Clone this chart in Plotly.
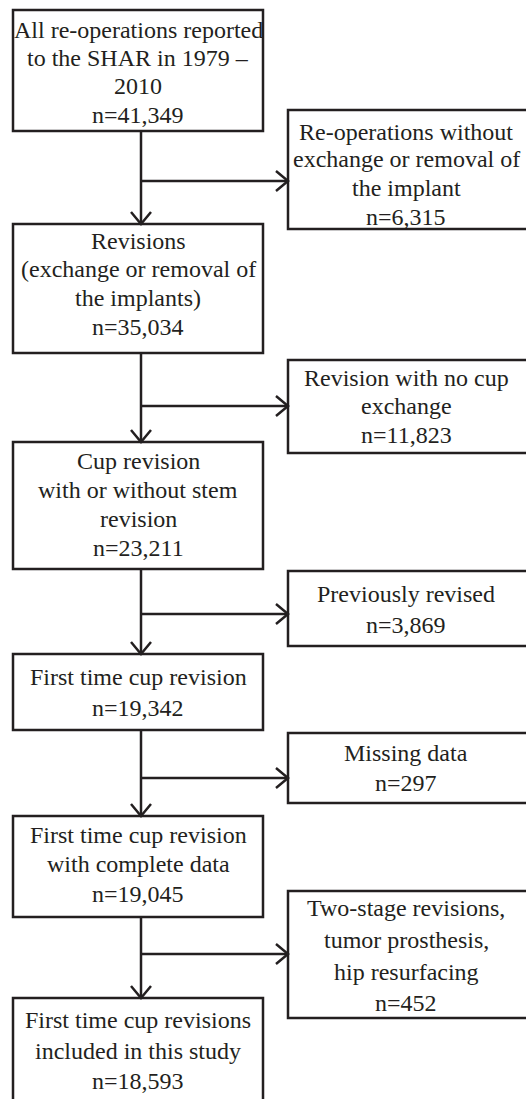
import plotly.graph_objects as go

# ---- data (text content) ----
main_steps = [
    ["All re-operations reported", "to the SHAR in 1979 –", "2010", "n=41,349"],
    ["Revisions", "(exchange or removal of", "the implants)", "n=35,034"],
    ["Cup revision", "with or without stem", "revision", "n=23,211"],
    ["First time cup revision", "n=19,342"],
    ["First time cup revision", "with complete data", "n=19,045"],
    ["First time cup revisions", "included in this study", "n=18,593"],
]
exclusions = [
    ["Re-operations without", "exchange or removal of", "the implant", "n=6,315"],
    ["Revision with no cup", "exchange", "n=11,823"],
    ["Previously revised", "n=3,869"],
    ["Missing data", "n=297"],
    ["Two-stage revisions,", "tumor prosthesis,", "hip resurfacing", "n=452"],
]

# ---- layout geometry (pixel space) ----
W, H = 526, 1099
LX0, LX1, LCX, LINEX = 13, 263, 138, 141
RX0, RX1, RCX = 288, 528, 406
left_boxes = [(10, 131), (224, 353), (442, 569), (654, 730), (816, 917), (998, 1103)]
right_boxes = [(110, 229), (360, 453), (571, 646), (733, 803), (891, 1018)]
branch_y = [181, 406, 614, 778, 954]
left_line_y = [[30, 58, 86, 115], [241, 269, 298, 327], [461, 490, 519, 548],
               [677, 708], [835, 864, 894], [1020, 1051, 1081]]
right_line_y = [[132, 159, 188, 217], [378, 406, 435], [594, 625],
                [753, 783], [908, 940, 972, 1003]]
INK = "#231f20"
LW = 2.5
AH_LEN, AH_HALF = 12, 10

fig = go.Figure()
shapes = []
annotations = []

def add_text(lines, ys, cx):
    for t, y in zip(lines, ys):
        annotations.append(dict(x=cx, y=y, text=t, showarrow=False, xanchor="center",
                                yanchor="middle", xref="x", yref="y",
                                font=dict(family="Liberation Serif, Times New Roman, serif",
                                          size=24, color=INK)))

for (t, b), lines, ys in zip(left_boxes, main_steps, left_line_y):
    shapes.append(dict(type="rect", x0=LX0, x1=LX1, y0=t, y1=b, xref="x", yref="y",
                       line=dict(color=INK, width=LW), fillcolor="white", layer="below"))
    add_text(lines, ys, LCX)

for (t, b), lines, ys in zip(right_boxes, exclusions, right_line_y):
    shapes.append(dict(type="rect", x0=RX0, x1=RX1, y0=t, y1=b, xref="x", yref="y",
                       line=dict(color=INK, width=LW), fillcolor="white", layer="below"))
    add_text(lines, ys, RCX)

for i, by in enumerate(branch_y):
    top = left_boxes[i][1]
    nxt = left_boxes[i + 1][0]
    shapes.append(dict(type="line", x0=LINEX, x1=LINEX, y0=top, y1=nxt, xref="x", yref="y",
                       line=dict(color=INK, width=LW)))
    shapes.append(dict(type="path", xref="x", yref="y",
                       path=f"M {LINEX-AH_HALF},{nxt-AH_LEN} L {LINEX},{nxt} L {LINEX+AH_HALF},{nxt-AH_LEN}",
                       line=dict(color=INK, width=LW)))
    shapes.append(dict(type="line", x0=LINEX, x1=RX0, y0=by, y1=by, xref="x", yref="y",
                       line=dict(color=INK, width=LW)))
    shapes.append(dict(type="path", xref="x", yref="y",
                       path=f"M {RX0-AH_LEN},{by-AH_HALF} L {RX0},{by} L {RX0-AH_LEN},{by+AH_HALF}",
                       line=dict(color=INK, width=LW)))

fig.update_layout(
    width=W, height=H,
    margin=dict(l=0, r=0, t=0, b=0),
    paper_bgcolor="white", plot_bgcolor="white",
    xaxis=dict(range=[0, W], visible=False, fixedrange=True),
    yaxis=dict(range=[H, 0], visible=False, fixedrange=True),
    shapes=shapes, annotations=annotations, showlegend=False,
)
fig.write_html("out.html", config={"displayModeBar": False},
               post_script="document.body.style.margin='0';document.body.style.overflow='hidden';")
